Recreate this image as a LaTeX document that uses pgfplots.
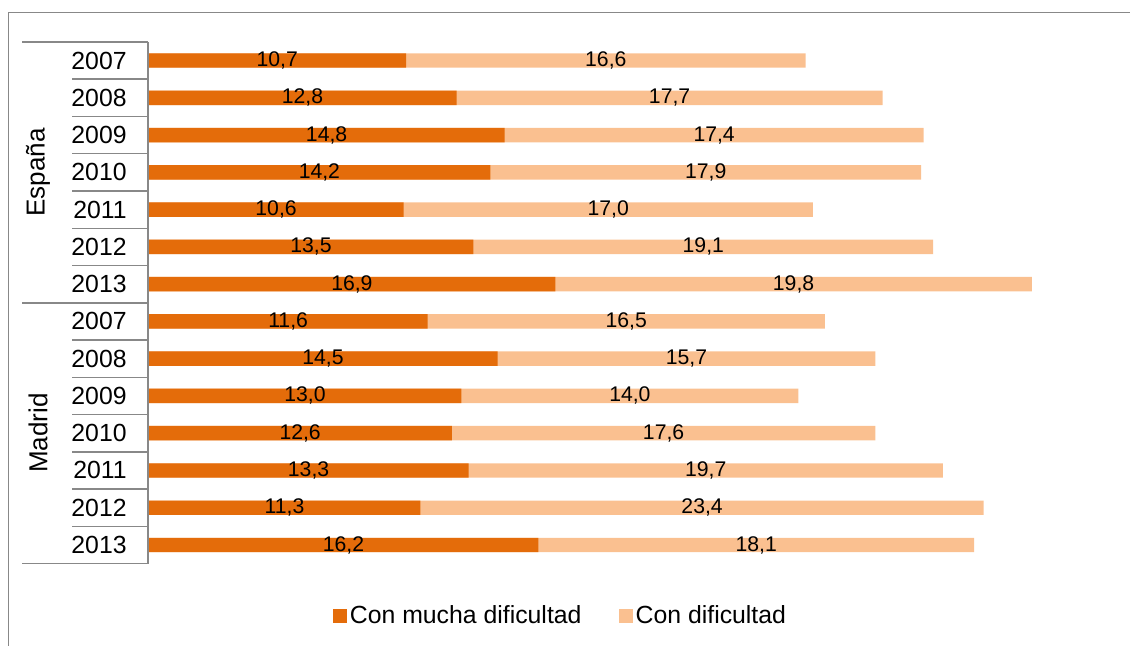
\documentclass[border=0pt]{standalone}
\usepackage{fontspec}
\setmainfont{Liberation Sans}
\usepackage{pgfplots}
\usepackage{pgfplotstable}
\pgfplotsset{compat=1.18}

\definecolor{darkor}{HTML}{E46C0A}
\definecolor{lightor}{HTML}{FAC090}
\definecolor{linegray}{HTML}{888888}

% y = row (0 = España 2007 ... 13 = Madrid 2013)
\pgfplotstableread{
y  a    b
0  10.7 16.6
1  12.8 17.7
2  14.8 17.4
3  14.2 17.9
4  10.6 17.0
5  13.5 19.1
6  16.9 19.8
7  11.6 16.5
8  14.5 15.7
9  13.0 14.0
10 12.6 17.6
11 13.3 19.7
12 11.3 23.4
13 16.2 18.1
}\data

\begin{document}
\begin{tikzpicture}[x=0.5pt,y=0.5pt]
\path[use as bounding box] (0,0) rectangle (1130,645);
% outer frame (only left and top visible)
\draw[linegray, line width=0.6pt] (8.5,-5) -- (8.5,632.3) -- (1140,632.3);

\begin{axis}[
    at={(74.25pt,40.7pt)}, anchor=south west,
    scale only axis,
    width=481.4pt, height=260.85pt,
    xmin=0, xmax=40,
    ymin=-0.5, ymax=13.5,
    y dir=reverse,
    axis line style={draw=none},
    xtick=\empty,
    ytick={0,...,13},
    yticklabels={2007,2008,2009,2010,2011,2012,2013,2007,2008,2009,2010,2011,2012,2013},
    major tick length=0pt,
    yticklabel style={anchor=east, inner sep=0pt, xshift=-10.75pt, font=\fontsize{12.4}{14}\selectfont},
    /pgf/number format/assume math mode=true,
    clip=false,
    legend style={at={(0.4284,-0.1004)}, anchor=center, draw=none, fill=none,
        legend columns=2, font=\fontsize{12.4}{14}\selectfont,
        nodes={inner sep=1.3pt},
        /tikz/every even column/.append style={column sep=17.5pt}},
    legend image code/.code={\fill[#1] (0pt,-3.5pt) rectangle (7pt,3.5pt);},
    every node near coord/.append style={anchor=center, font=\fontsize{10.6}{12}\selectfont, text=black},
]
% light bars (total length), dark bars drawn over them
\addplot[xbar, bar width=7.2pt, bar shift=0pt, fill=lightor, draw=none, forget plot]
    table[x expr=\thisrow{a}+\thisrow{b}, y=y] {\data};
\addplot[xbar, bar width=7.2pt, bar shift=0pt, fill=darkor, draw=none, forget plot]
    table[x=a, y=y] {\data};

% value labels, centred in each segment
\addplot[only marks, mark=none, forget plot, point meta=explicit,
    nodes near coords={\pgfmathprintnumber[fixed,fixed zerofill,precision=1,use comma]{\pgfplotspointmeta}}]
    table[x expr=\thisrow{a}/2, y=y, meta=a] {\data};
\addplot[only marks, mark=none, forget plot, point meta=explicit,
    nodes near coords={\pgfmathprintnumber[fixed,fixed zerofill,precision=1,use comma]{\pgfplotspointmeta}}]
    table[x expr=\thisrow{a}+\thisrow{b}/2, y=y, meta=b] {\data};

\addlegendimage{fill=darkor, draw=none}
\addlegendentry{Con mucha dificultad}
\addlegendimage{fill=lightor, draw=none}
\addlegendentry{Con dificultad}
\end{axis}

% category axis: lines and group labels
\draw[linegray, line width=0.7pt] (148,81.4) -- (148,603.1);
\foreach \yy in {603.1,342.2,81.4}
  \draw[linegray, line width=0.7pt] (22,\yy) -- (148,\yy);
\foreach \k in {1,...,6,8,9,10,11,12,13}
  \draw[linegray, line width=0.7pt] (72,{603.1-\k*37.27}) -- (148,{603.1-\k*37.27});
\node[rotate=90, font=\fontsize{13}{15}\selectfont] at (38,472.7) {España};
\node[rotate=90, font=\fontsize{13}{15}\selectfont] at (38,211.8) {Madrid};
\end{tikzpicture}
\end{document}
